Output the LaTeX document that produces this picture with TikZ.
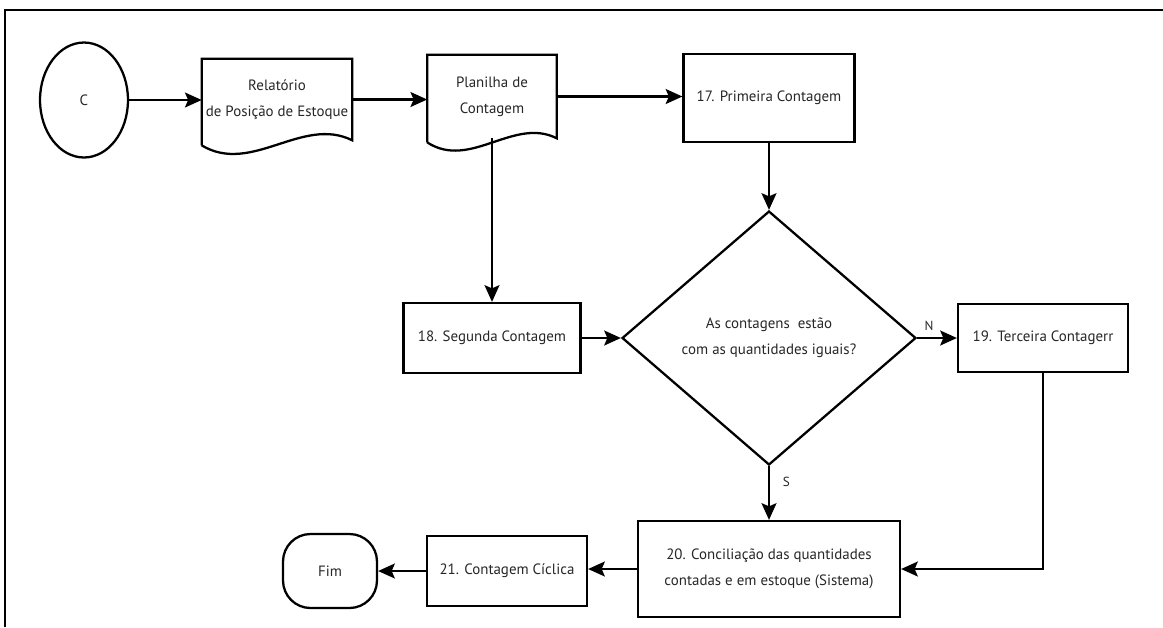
\documentclass[tikz,border=0pt]{standalone}
\usepackage{fontspec}
\setmainfont{PT Sans}
\usetikzlibrary{shapes.geometric,arrows.meta}

\begin{document}
\begin{tikzpicture}[x=0.02cm,y=-0.02cm,
  >={Stealth[length=9.5pt,width=8.5pt,inset=1.8pt]},
  every node/.style={font=\fontsize{8.5}{15}\selectfont, text=black!85},
  proc/.style={draw, line width=1.3pt, align=center, inner sep=2pt},
  docnode/.style={align=center, inner sep=0pt},
  decision/.style={draw, diamond, line width=1.3pt, align=center, inner sep=0pt},
  startnode/.style={draw, ellipse, line width=1.3pt, minimum width=1.76cm, minimum height=2.3cm},
  endnode/.style={draw, rounded corners=0.55cm, line width=1.3pt, minimum width=1.88cm, minimum height=1.48cm},
  flow/.style={->, line width=1.2pt},
  lbl/.style={font=\fontsize{7.5}{9}\selectfont}]
\useasboundingbox (0,0) rectangle (1163,627);
\draw[line width=1.2pt] (5,627) -- (5,10) -- (1163,10);

\node[startnode] (inicio) at (84,100) {C};
\node[docnode, minimum width=3cm, minimum height=1.62cm] (relatorio) at (277,99.5) {Relatório\\de Posição de Estoque};
\draw[line width=1.3pt] ([shift={(0,5)}]relatorio.south west) -- (relatorio.north west) -- (relatorio.north east) -- (relatorio.south east)
  .. controls +(-50,-25) and +(50,30) .. ([shift={(0,5)}]relatorio.south west);
\node[docnode, minimum width=2.58cm, minimum height=1.66cm] (planilha) at (492,96.5) {Planilha de\\Contagem};
\draw[line width=1.3pt] ([shift={(0,4)}]planilha.south west) -- (planilha.north west) -- (planilha.north east) -- (planilha.south east)
  .. controls +(-43,-22) and +(43,28) .. ([shift={(0,4)}]planilha.south west);

\node[proc, minimum width=3.42cm, minimum height=1.76cm] (primeira) at (769,98) {17. Primeira Contagem};
\node[proc, minimum width=3.54cm, minimum height=1.4cm] (segunda) at (492,338) {18. Segunda Contagem};
\node[decision, minimum width=5.88cm, minimum height=5.08cm] (iguais) at (769,338) {As contagens\ \ estão\\com as quantidades iguais?};
\node[proc, minimum width=3.4cm, minimum height=1.36cm] (terceira) at (1043,338) {19. Terceira Contagerr};
\node[proc, minimum width=5.24cm, minimum height=1.92cm] (conciliacao) at (769,569) {20. Conciliação das quantidades\\contadas e em estoque (Sistema)};
\node[proc, minimum width=3.2cm, minimum height=1.4cm] (ciclica) at (507,571) {21. Contagem Cíclica};
\node[endnode] (fim) at (330,571) {Fim};

\draw[flow] (inicio.east) -- (inicio.east -| relatorio.west);
\draw[flow] (relatorio.east) -- (relatorio.east -| planilha.west);
\draw[flow] (planilha.east) -- (planilha.east -| primeira.west);
\draw[flow] (primeira.south) -- (iguais.north);
\draw[flow] (planilha.south) -- (segunda.north);
\draw[flow] (segunda.east) -- (iguais.west);
\draw[flow] (iguais.east) -- node[lbl, above, pos=0.3] {N} (terceira.west);
\draw[flow] (iguais.south) -- node[lbl, right, pos=0.3, xshift=4pt] {S} (conciliacao.north);
\draw[flow] (terceira.south) |- (conciliacao.east);
\draw[flow] (conciliacao.west) -- (conciliacao.west -| ciclica.east);
\draw[flow] (ciclica.west) -- (fim.east);
\end{tikzpicture}
\end{document}
